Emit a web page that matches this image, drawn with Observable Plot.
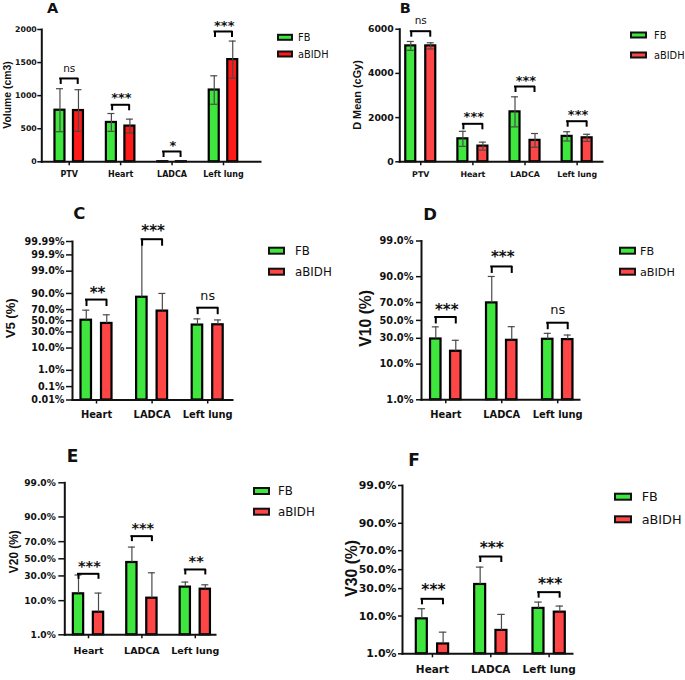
<!DOCTYPE html>
<html><head><meta charset="utf-8">
<script src="https://cdn.jsdelivr.net/npm/d3@7"></script>
<script src="https://cdn.jsdelivr.net/npm/@observablehq/plot@0.6"></script>
<style>
body{margin:0;background:#fff;}
#root{position:relative;width:685px;height:680px;overflow:hidden;background:#fff;}
.panel{position:absolute;}
#overlay{position:absolute;left:0;top:0;pointer-events:none;}
</style></head>
<body><div id="root"></div>
<script>
// ---------------- data ----------------
const catsAB = ["PTV", "Heart", "LADCA", "Left lung"];
const catsCF = ["Heart", "LADCA", "Left lung"];
const seriesNames = ["FB", "aBIDH"];
const panelLetters = ["A", "B", "C", "D", "E", "F"];
const yTitles = ["Volume (cm3)", "D Mean (cGy)", "V5 (%)", "V10 (%)", "V20 (%)", "V30 (%)"];

// A: Volume (cm3)
const volFB = [780, 595, 1.5, 1085];
const volFBsd = [325, 135, 0.5, 215];
const volAB = [775, 540, 1.2, 1545];
const volABsd = [315, 105, 0.4, 280];
const volSig = ["ns", "***", "*", "***"];
const volBracket = [1260, 862, 156, 1970];
const volSigPos = [1406, 1013, 281, 2095];
const volTicks = [0, 500, 1000, 1500, 2000];
const volTickLabels = ["0", "500", "1000", "1500", "2000"];

// B: D Mean (cGy)
const dmFB = [5245, 1040, 2260, 1150];
const dmFBsd = [200, 340, 680, 210];
const dmAB = [5245, 710, 970, 1085];
const dmABsd = [140, 180, 310, 160];
const dmSig = ["ns", "***", "***", "***"];
const dmBracket = [5910, 1719, 3407, 1837];
const dmSigPos = [6394, 2171, 3800, 2244];
const dmTicks = [0, 2000, 4000, 6000];
const dmTickLabels = ["0", "2000", "4000", "6000"];

// C: V5 (%)
const v5FB = [51, 86.5, 42];
const v5FBsd = [18, 20, 11.5];
const v5AB = [45, 67.5, 42.5];
const v5ABsd = [16, 22.5, 9];
const v5Sig = ["**", "***", "ns"];
const v5Bracket = [84, 99.9935, 73];
const v5SigPos = [92.5, 99.9993, 88];
const v5Ticks = [0.01, 0.1, 1, 10, 30, 50, 70, 90, 99, 99.9, 99.99];
const v5TickLabels = ["0.01%", "0.1%", "1.0%", "10.0%", "30.0%", "50.0%", "70.0%", "90.0%", "99.0%", "99.9%", "99.99%"];

// D: V10 (%)
const v10FB = [29.3, 69.6, 29];
const v10FBsd = [13.2, 20.5, 6.2];
const v10AB = [18.3, 28, 28.7];
const v10ABsd = [9.7, 14.7, 4.7];
const v10Sig = ["***", "***", "ns"];
const v10Bracket = [54, 94.3, 47.3];
const v10SigPos = [65.5, 97.3, 61.9];
const pTicks = [1, 10, 30, 50, 70, 90, 99];
const pTickLabels = ["1.0%", "10.0%", "30.0%", "50.0%", "70.0%", "90.0%", "99.0%"];

// E: V20 (%)
const v20FB = [14.2, 45.5, 19.3];
const v20FBsd = [16.8, 18.5, 4.5];
const v20AB = [5.1, 11.4, 17.6];
const v20ABsd = [9.6, 22, 3.7];
const v20Sig = ["***", "***", "**"];
const v20Bracket = [32.3, 75.6, 37.2];
const v20SigPos = [44.7, 84.6, 50];

// F: V30 (%)
const v30FB = [8.7, 34.1, 14.2];
const v30FBsd = [5.3, 18.7, 4.3];
const v30AB = [2.0, 4.65, 12];
const v30ABsd = [2.2, 6.15, 3.7];
const v30Sig = ["***", "***", "***"];
const v30Bracket = [21, 64.2, 26.7];
const v30SigPos = [31.5, 75, 38.2];

// ---------------- helpers ----------------
function probit(p) {
  const a = [-3.969683028665376e+01, 2.209460984245205e+02, -2.759285104469687e+02, 1.383577518672690e+02, -3.066479806614716e+01, 2.506628277459239e+00];
  const b = [-5.447609879822406e+01, 1.615858368580409e+02, -1.556989798598866e+02, 6.680131188771972e+01, -1.328068155288572e+01];
  const c = [-7.784894002430293e-03, -3.223964580411365e-01, -2.400758277161838e+00, -2.549732539343734e+00, 4.374664141464968e+00, 2.938163982698783e+00];
  const d = [7.784695709041462e-03, 3.224671290700398e-01, 2.445134137142996e+00, 3.754408661907416e+00];
  const pl = 0.02425, ph = 1 - pl;
  let q, r;
  if (p < pl) {
    q = Math.sqrt(-2 * Math.log(p));
    return (((((c[0]*q+c[1])*q+c[2])*q+c[3])*q+c[4])*q+c[5]) / ((((d[0]*q+d[1])*q+d[2])*q+d[3])*q+1);
  }
  if (p <= ph) {
    q = p - 0.5; r = q * q;
    return (((((a[0]*r+a[1])*r+a[2])*r+a[3])*r+a[4])*r+a[5])*q / (((((b[0]*r+b[1])*r+b[2])*r+b[3])*r+b[4])*r+1);
  }
  q = Math.sqrt(-2 * Math.log(1 - p));
  return -(((((c[0]*q+c[1])*q+c[2])*q+c[3])*q+c[4])*q+c[5]) / ((((d[0]*q+d[1])*q+d[2])*q+d[3])*q+1);
}
const pct = v => probit(v / 100);

const GREEN = "#3ee63e";

function makePanel(cfg, L) {
  const {cats, fb, fbSd, ab, abSd, sig, bracket, sigPos, ticks, tickLabels, scale, colors} = cfg;
  const Y = scale === "probit" ? pct : (v => v);
  const top = ticks[ticks.length - 1];
  const yMin = Y(ticks[0]), yMax = Y(top);
  const B = (L.r1 - L.r0) / cats.length;
  const o = L.g / 2 + L.w / 2;
  const rw = L.w - 2;
  const cap = L.cap;
  const marks = [];
  [0, 1].forEach(s => {
    const data = cats.map((c, i) => ({cat: c, v: s === 0 ? fb[i] : ab[i], sd: s === 0 ? fbSd[i] : abSd[i]}));
    const off = (s === 0 ? -1 : 1) * o;
    marks.push(Plot.barY(data, {x: "cat", y1: () => yMin, y2: d => Y(d.v), fill: colors[s], stroke: "#000", strokeWidth: 2.2,
      insetLeft: B / 2 + off - rw / 2, insetRight: B / 2 - off - rw / 2}));
    const lo = d => scale === "probit" ? d.v : d.v - d.sd;
    const hi = d => Math.min(d.v + d.sd, top);
    marks.push(Plot.ruleX(data, {x: "cat", y1: d => Y(lo(d)), y2: d => Y(hi(d)), dx: off, stroke: "#4a4a4a", strokeWidth: 1.2}));
    marks.push(Plot.tickY(data.filter(d => d.v + d.sd < top), {x: "cat", y: d => Y(d.v + d.sd), dx: off,
      insetLeft: B / 2 - cap / 2, insetRight: B / 2 - cap / 2, stroke: "#4a4a4a", strokeWidth: 1.2}));
    if (scale !== "probit") {
      marks.push(Plot.tickY(data, {x: "cat", y: d => Y(d.v - d.sd), dx: off,
        insetLeft: B / 2 - cap / 2, insetRight: B / 2 - cap / 2, stroke: "#4a4a4a", strokeWidth: 1.2}));
    }
  });
  const sigRows = cats.map((c, i) => ({cat: c, sig: sig[i], b: bracket[i], t: sigPos[i]}));
  const hb = L.hb;
  marks.push(Plot.tickY(sigRows, {x: "cat", y: d => Y(d.b), insetLeft: B / 2 - hb, insetRight: B / 2 - hb, stroke: "#000", strokeWidth: 2, strokeLinecap: "square"}));
  [-hb, hb].forEach(dx => {
    marks.push(Plot.ruleX(sigRows, {x: "cat", y1: d => Y(d.b), y2: d => Y(d.b), dx, insetBottom: -L.leg, stroke: "#000", strokeWidth: 2}));
  });
  marks.push(Plot.text(sigRows.filter(d => d.sig !== "ns"), {x: "cat", y: d => Y(d.t), text: "sig", fontSize: L.starFs, fontWeight: "bold",
    dy: 0.2 * L.starFs, dx: L.starLs / 2, fill: "#111", ariaLabel: "stars"}));
  marks.push(Plot.text(sigRows.filter(d => d.sig === "ns"), {x: "cat", y: d => Y(d.t), text: "sig", fontSize: L.nsFs, fontWeight: "normal", fill: "#111"}));
  const fmt = new Map(ticks.map((t, i) => [Y(t), tickLabels[i]]));
  marks.push(Plot.axisY({ticks: ticks.map(Y), tickFormat: d => fmt.get(d), tickSize: L.yts, tickPadding: L.ytp,
    fontSize: L.yfs, strokeWidth: 1.5, label: null}));
  marks.push(Plot.axisX({tickSize: 4, tickPadding: L.xtp, fontSize: L.xfs, strokeWidth: 1.5, label: null}));
  marks.push(Plot.frame({anchor: "left", strokeWidth: 2}));
  marks.push(Plot.frame({anchor: "bottom", strokeWidth: 2}));
  const svg = Plot.plot({
    width: L.W, height: L.H,
    marginLeft: L.mL, marginRight: L.mR, marginTop: L.mT, marginBottom: L.mB,
    x: {type: "band", domain: cats, range: [L.r0, L.r1], padding: 0, round: false},
    y: {domain: [yMin, yMax]},
    style: {fontFamily: "'DejaVu Sans', sans-serif", fontWeight: "bold", color: "#111", background: "transparent", overflow: "visible"},
    marks
  });
  d3.select(svg).selectAll('g[aria-label="stars"] text').style("letter-spacing", L.starLs + "px");
  return svg;
}

// ---------------- layout ----------------
const redA = "#ff1a1a", redB = "#ff4646";
const panels = [
  {cfg: {cats: catsAB, fb: volFB, fbSd: volFBsd, ab: volAB, abSd: volABsd, sig: volSig, bracket: volBracket, sigPos: volSigPos, ticks: volTicks, tickLabels: volTickLabels, scale: "linear", colors: [GREEN, redA]},
   L: {left: 0, top: 0, W: 342, H: 190, mL: 41.3, mR: 82, mT: 29, mB: 28.7, r0: 43, r1: 248.7, w: 12, g: 6.5, cap: 7, hb: 8.5, leg: 6,
       yfs: 7.8, yts: 4, ytp: 1, xfs: 8, xtp: 5.5, starFs: 13, starLs: 1.5, nsFs: 10.5}},
  {cfg: {cats: catsAB, fb: dmFB, fbSd: dmFBsd, ab: dmAB, abSd: dmABsd, sig: dmSig, bracket: dmBracket, sigPos: dmSigPos, ticks: dmTicks, tickLabels: dmTickLabels, scale: "linear", colors: [GREEN, redB]},
   L: {left: 342, top: 0, W: 343, H: 190, mL: 57.3, mR: 83, mT: 28.7, mB: 28.7, r0: 52.2, r1: 260.7, w: 12, g: 8, cap: 7, hb: 9.5, leg: 6,
       yfs: 9.3, yts: 4, ytp: 2, xfs: 7.9, xtp: 5.5, starFs: 13, starLs: 1.8, nsFs: 10.5}},
  {cfg: {cats: catsCF, fb: v5FB, fbSd: v5FBsd, ab: v5AB, abSd: v5ABsd, sig: v5Sig, bracket: v5Bracket, sigPos: v5SigPos, ticks: v5Ticks, tickLabels: v5TickLabels, scale: "probit", colors: [GREEN, redB]},
   L: {left: 0, top: 190, W: 342, H: 250, mL: 72, mR: 110, mT: 51, mB: 40.5, r0: 68.2, r1: 235, w: 12.5, g: 8, cap: 7, hb: 10, leg: 7,
       yfs: 9.6, yts: 6, ytp: 2, xfs: 9.9, xtp: 7, starFs: 15, starLs: 2, nsFs: 12.7}},
  {cfg: {cats: catsCF, fb: v10FB, fbSd: v10FBsd, ab: v10AB, abSd: v10ABsd, sig: v10Sig, bracket: v10Bracket, sigPos: v10SigPos, ticks: pTicks, tickLabels: pTickLabels, scale: "probit", colors: [GREEN, redB]},
   L: {left: 342, top: 190, W: 343, H: 250, mL: 79, mR: 106, mT: 50.5, mB: 40.7, r0: 75.3, r1: 243.2, w: 12.5, g: 7.5, cap: 7, hb: 10, leg: 7,
       yfs: 9.8, yts: 5, ytp: 3, xfs: 9.9, xtp: 7, starFs: 15, starLs: 2, nsFs: 13}},
  {cfg: {cats: catsCF, fb: v20FB, fbSd: v20FBsd, ab: v20AB, abSd: v20ABsd, sig: v20Sig, bracket: v20Bracket, sigPos: v20SigPos, ticks: pTicks, tickLabels: pTickLabels, scale: "probit", colors: [GREEN, redB]},
   L: {left: 0, top: 440, W: 342, H: 240, mL: 64.3, mR: 127, mT: 42.3, mB: 45.7, r0: 61.3, r1: 221.5, w: 12.3, g: 7.7, cap: 7, hb: 10, leg: 5.5,
       yfs: 9.1, yts: 6, ytp: 3, xfs: 9.5, xtp: 8, starFs: 14.5, starLs: 1.8, nsFs: 12}},
  {cfg: {cats: catsCF, fb: v30FB, fbSd: v30FBsd, ab: v30AB, abSd: v30ABsd, sig: v30Sig, bracket: v30Bracket, sigPos: v30SigPos, ticks: pTicks, tickLabels: pTickLabels, scale: "probit", colors: [GREEN, redB]},
   L: {left: 342, top: 440, W: 343, H: 240, mL: 60, mR: 113, mT: 45, mB: 26.7, r0: 60.8, r1: 235.8, w: 13, g: 8.3, cap: 7.5, hb: 10.5, leg: 6,
       yfs: 10.9, yts: 4, ytp: 2, xfs: 10.5, xtp: 8, starFs: 15.5, starLs: 2, nsFs: 13}}
];

const root = document.getElementById("root");
panels.forEach(({cfg, L}) => {
  const div = document.createElement("div");
  div.className = "panel";
  div.style.left = L.left + "px";
  div.style.top = L.top + "px";
  div.appendChild(makePanel(cfg, L));
  root.appendChild(div);
});

// ---------------- overlay: panel letters, y titles, legends ----------------
const titleLayout = [
  {x: 52.5, y: 7.5, fs: 14.5}, {x: 405.3, y: 7.7, fs: 14.5}, {x: 79.2, y: 213.3, fs: 16.5},
  {x: 430, y: 213.7, fs: 16.5}, {x: 72.5, y: 456.3, fs: 17}, {x: 414, y: 459.7, fs: 17}
];
const yTitleLayout = [
  {x: 7.5, y: 95, fs: 10.4}, {x: 357, y: 95, fs: 10.9}, {x: 10, y: 318.3, fs: 13.1},
  {x: 365.3, y: 318.3, fs: 15.7}, {x: 14, y: 551.7, fs: 11.9}, {x: 351, y: 568.3, fs: 15.7}
];
const legendLayout = [
  {sx: 277, ys: [37.3, 54], tx: 298, fs: 9.8, sw: 16, sh: 7, colors: [GREEN, redA]},
  {sx: 630, ys: [35, 55], tx: 654, fs: 9.8, sw: 17, sh: 7, colors: [GREEN, redB]},
  {sx: 268, ys: [250.7, 271.7], tx: 295, fs: 11.8, sw: 17, sh: 8, colors: [GREEN, redB]},
  {sx: 619, ys: [250.7, 271.7], tx: 640, fs: 11.2, sw: 17, sh: 8, colors: [GREEN, redB]},
  {sx: 253, ys: [491, 511.7], tx: 278, fs: 11.8, sw: 17, sh: 8, colors: [GREEN, redB]},
  {sx: 614, ys: [496.7, 519.3], tx: 641.7, fs: 12.8, sw: 18, sh: 8, colors: [GREEN, redB]}
];

const ov = d3.select(root).append("svg").attr("id", "overlay").attr("width", 685).attr("height", 680)
  .style("font-family", "'DejaVu Sans', sans-serif");
panelLetters.forEach((t, i) => {
  const p = titleLayout[i];
  ov.append("text").attr("x", p.x).attr("y", p.y + 0.3645 * p.fs).attr("text-anchor", "middle")
    .attr("font-size", p.fs).attr("font-weight", "bold").attr("fill", "#111").text(t);
});
yTitles.forEach((t, i) => {
  const p = yTitleLayout[i];
  ov.append("text").attr("transform", `translate(${p.x + 0.358 * p.fs},${p.y}) rotate(-90)`).attr("text-anchor", "middle")
    .attr("font-family", "'Liberation Sans', Arial, sans-serif")
    .attr("font-size", p.fs).attr("font-weight", "bold").attr("fill", "#111").text(t);
});
legendLayout.forEach(p => {
  seriesNames.forEach((name, j) => {
    const cy = p.ys[j];
    ov.append("rect").attr("x", p.sx + 1).attr("y", cy - p.sh / 2 + 1).attr("width", p.sw - 2).attr("height", p.sh - 2)
      .attr("fill", p.colors[j]).attr("stroke", "#111").attr("stroke-width", 2);
    ov.append("text").attr("x", p.tx).attr("y", cy + 0.3645 * p.fs).attr("font-size", p.fs).attr("fill", "#111").text(name);
  });
});
</script>
</body></html>
